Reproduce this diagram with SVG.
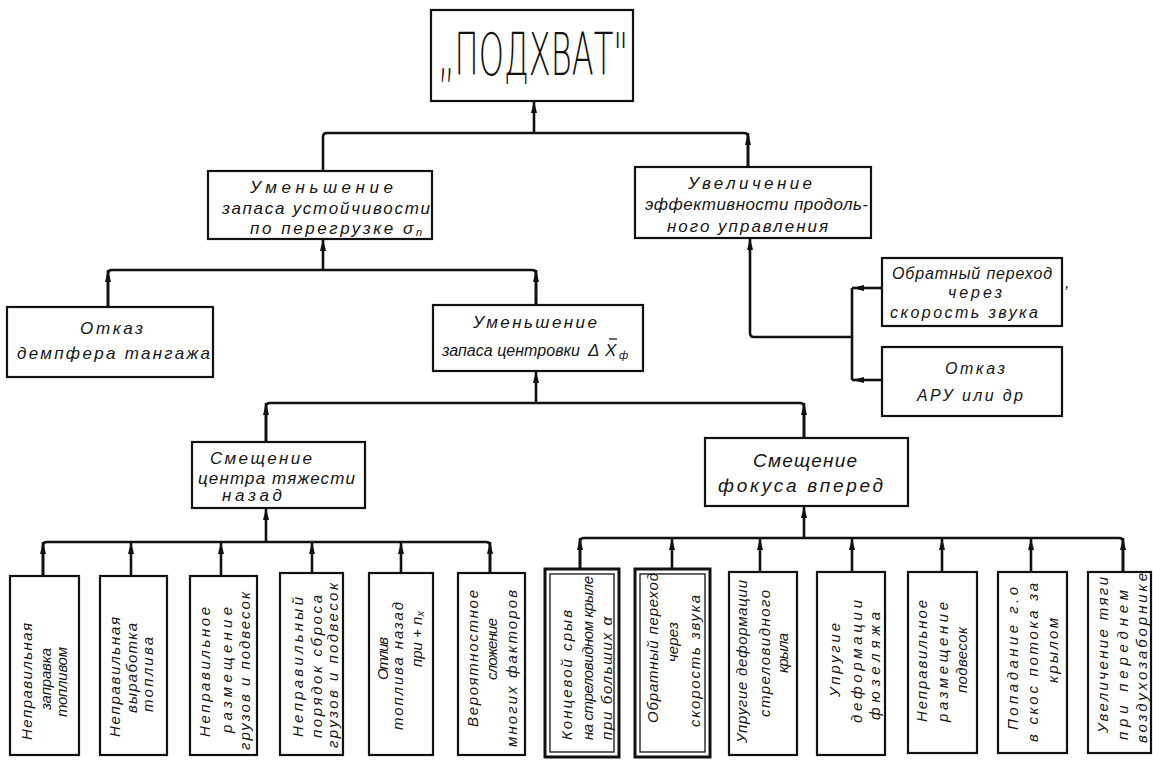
<svg xmlns="http://www.w3.org/2000/svg" width="1153" height="763" viewBox="0 0 1153 763">
<style>
.bx{fill:#fff;stroke:#111;stroke-width:2.2}
.bd{fill:#fff;stroke:#111;stroke-width:3}
.bi{fill:none;stroke:#111;stroke-width:1.3}
.ln{fill:none;stroke:#111;stroke-width:2.6;stroke-linejoin:round}
.t{font-family:"Liberation Sans","DejaVu Sans",sans-serif;font-style:italic;font-size:17px;fill:#151515}
.tb{font-size:19px}
.ts{font-size:16px}
.sub{font-size:11px}
.v{font-family:"Liberation Sans","DejaVu Sans",sans-serif;font-style:italic;font-size:15px;fill:#151515}
.big{font-family:"DejaVu Sans","Liberation Sans",sans-serif;font-weight:200;font-size:58px;fill:#111}
</style>
<defs>
<marker id="ah" viewBox="0 0 12 6" refX="12" refY="3" markerWidth="12" markerHeight="6" markerUnits="userSpaceOnUse" orient="auto">
<path d="M0,0 L12,3 L0,6 z" fill="#111"/>
</marker>
</defs>
<rect width="1153" height="763" fill="#fff"/>

<g id="connectors">
<path class="ln" d="M323,171 L323,137 Q323,133 327,133 L744,133 Q748,133 748,137 L748,167"/>
<path class="ln" d="M534,133 L534,101" marker-end="url(#ah)"/>
<path class="ln" d="M748,167 L748,133" marker-end="url(#ah)"/>
<path class="ln" d="M108,307 L108,274 Q108,270 112,270 L532,270 Q536,270 536,274 L536,305"/>
<path class="ln" d="M323,270 L323,239" marker-end="url(#ah)"/>
<path class="ln" d="M108,307 L108,270" marker-end="url(#ah)"/>
<path class="ln" d="M536,305 L536,270" marker-end="url(#ah)"/>
<path class="ln" d="M266,442 L266,407 Q266,403 270,403 L800,403 Q804,403 804,407 L804,438"/>
<path class="ln" d="M536,403 L536,371" marker-end="url(#ah)"/>
<path class="ln" d="M266,442 L266,403" marker-end="url(#ah)"/>
<path class="ln" d="M804,438 L804,403" marker-end="url(#ah)"/>
<path class="ln" d="M43,576 L43,546 Q43,542 47,542 L486,542 Q490,542 490,546 L490,573"/>
<path class="ln" d="M266,542 L266,508" marker-end="url(#ah)"/>
<path class="ln" d="M43,576 L43,542" marker-end="url(#ah)"/>
<path class="ln" d="M131,576 L131,542" marker-end="url(#ah)"/>
<path class="ln" d="M221,576 L221,542" marker-end="url(#ah)"/>
<path class="ln" d="M312,573 L312,542" marker-end="url(#ah)"/>
<path class="ln" d="M401,573 L401,542" marker-end="url(#ah)"/>
<path class="ln" d="M490,573 L490,542" marker-end="url(#ah)"/>
<path class="ln" d="M580,569 L580,542 Q580,538 584,538 L1119,538 Q1123,538 1123,542 L1123,572"/>
<path class="ln" d="M804,538 L804,506" marker-end="url(#ah)"/>
<path class="ln" d="M580,569 L580,538" marker-end="url(#ah)"/>
<path class="ln" d="M672,569 L672,538" marker-end="url(#ah)"/>
<path class="ln" d="M760,572 L760,538" marker-end="url(#ah)"/>
<path class="ln" d="M852,572 L852,538" marker-end="url(#ah)"/>
<path class="ln" d="M942,572 L942,538" marker-end="url(#ah)"/>
<path class="ln" d="M1031,572 L1031,538" marker-end="url(#ah)"/>
<path class="ln" d="M1123,572 L1123,538" marker-end="url(#ah)"/>
<path class="ln" d="M852,337 L754,337 Q750,337 750,333 L750,238" marker-end="url(#ah)"/>
<path class="ln" d="M852,288 L852,380"/>
<path class="ln" d="M882,288 L852,288" marker-end="url(#ah)"/>
<path class="ln" d="M882,380 L852,380" marker-end="url(#ah)"/>
</g>

<g id="top">
<rect class="bx" x="431" y="10" width="202" height="91"/>
<text class="big" x="438" y="75" textLength="190" lengthAdjust="spacingAndGlyphs">„ПОДХВАТ"</text>
</g>

<g id="n-stability">
<rect class="bx" x="208" y="171" width="224" height="68"/>
<text class="t" x="250" y="193" textLength="143">Уменьшение</text>
<text class="t" x="222" y="214" textLength="208">запаса устойчивости</text>
<text class="t" x="250" y="234" textLength="172">по перегрузке σ<tspan class="sub" dy="2">n</tspan></text>
</g>

<g id="n-control">
<rect class="bx" x="635" y="167" width="236" height="71"/>
<text class="t" x="688" y="189" textLength="124">Увеличение</text>
<text class="t" x="645" y="210" textLength="223">эффективности продоль-</text>
<text class="t" x="667" y="232" textLength="161">ного управления</text>
</g>

<g id="n-sound">
<rect class="bx" x="882" y="258" width="180" height="68"/>
<text class="t ts" x="892" y="279" textLength="160">Обратный переход</text>
<text class="t ts" x="948" y="298" textLength="54">через</text>
<text class="t ts" x="890" y="318" textLength="148">скорость звука</text>
</g>
<text class="t" x="1065" y="288">,</text>

<g id="n-aru">
<rect class="bx" x="882" y="347" width="180" height="69"/>
<text class="t ts" x="945" y="374" textLength="60">Отказ</text>
<text class="t ts" x="917" y="401" textLength="106">АРУ или др</text>
</g>

<g id="n-damper">
<rect class="bx" x="7" y="307" width="206" height="70"/>
<text class="t" x="80" y="334" textLength="63">Отказ</text>
<text class="t" x="17" y="359" textLength="193">демпфера тангажа</text>
</g>

<g id="n-centering">
<rect class="bx" x="433" y="305" width="210" height="66"/>
<text class="t" x="473" y="328" textLength="124">Уменьшение</text>
<text class="t ts" x="442" y="356" textLength="138">запаса центровки</text>
<text class="t" x="588" y="356">Δ</text>
<text class="t" x="605" y="356">X</text>
<line x1="609" y1="339" x2="617" y2="339" stroke="#151515" stroke-width="1.3"/>
<text class="t sub" x="619" y="359">ф</text>
</g>

<g id="n-cg">
<rect class="bx" x="192" y="442" width="173" height="66"/>
<text class="t" x="210" y="464" textLength="102">Смещение</text>
<text class="t" x="198" y="484" textLength="157">центра тяжести</text>
<text class="t" x="222" y="501" textLength="60">назад</text>
</g>

<g id="n-focus">
<rect class="bx" x="705" y="438" width="203" height="68"/>
<text class="t tb" x="753" y="467" textLength="104">Смещение</text>
<text class="t tb" x="718" y="492" textLength="165">фокуса вперед</text>
</g>

<g id="b1">
<rect class="bx" x="10" y="576" width="69" height="179"/>
<text class="v" transform="translate(32,740) rotate(-90)" textLength="117">Неправильная</text>
<text class="v" transform="translate(51,710) rotate(-90)" textLength="62">заправка</text>
<text class="v" transform="translate(67,717) rotate(-90)" textLength="70">топливом</text>
</g>
<g id="b2">
<rect class="bx" x="100" y="576" width="67" height="179"/>
<text class="v" transform="translate(120,737) rotate(-90)" textLength="120">Неправильная</text>
<text class="v" transform="translate(137,713) rotate(-90)" textLength="90">выработка</text>
<text class="v" transform="translate(153,712) rotate(-90)" textLength="75">топлива</text>
</g>
<g id="b3">
<rect class="bx" x="190" y="576" width="67" height="179"/>
<text class="v" transform="translate(210,737) rotate(-90)" textLength="130">Неправильное</text>
<text class="v" transform="translate(232,733) rotate(-90)" textLength="126">размещение</text>
<text class="v" transform="translate(250,750) rotate(-90)" textLength="158">грузов и подвесок</text>
</g>
<g id="b4">
<rect class="bx" x="280" y="573" width="63" height="182"/>
<text class="v" transform="translate(303,737) rotate(-90)" textLength="140">Неправильный</text>
<text class="v" transform="translate(322,738) rotate(-90)" textLength="143">порядок сброса</text>
<text class="v" transform="translate(338,748) rotate(-90)" textLength="165">грузов и подвесок</text>
</g>
<g id="b5">
<rect class="bx" x="369" y="573" width="64" height="182"/>
<text class="v" transform="translate(388,680) rotate(-90)" textLength="43">Отлив</text>
<text class="v" transform="translate(403,730) rotate(-90)" textLength="128">топлива назад</text>
<text class="v" transform="translate(422,667) rotate(-90)">при + n<tspan class="sub" dy="2">x</tspan></text>
</g>
<g id="b6">
<rect class="bx" x="458" y="573" width="67" height="182"/>
<text class="v" transform="translate(478,727) rotate(-90)" textLength="137">Вероятностное</text>
<text class="v" transform="translate(497,680) rotate(-90)" textLength="62">сложение</text>
<text class="v" transform="translate(517,747) rotate(-90)" textLength="157">многих факторов</text>
</g>
<g id="b7">
<rect class="bd" x="545" y="569" width="74" height="188"/>
<rect class="bi" x="550" y="574" width="64" height="178"/>
<text class="v" transform="translate(572,740) rotate(-90)" textLength="130">Концевой срыв</text>
<text class="v" transform="translate(593,740) rotate(-90)" textLength="164">на стреловидном крыле</text>
<text class="v" transform="translate(612,740) rotate(-90)" textLength="123">при больших α</text>
</g>
<g id="b8">
<rect class="bd" x="635" y="569" width="75" height="188"/>
<rect class="bi" x="640" y="574" width="65" height="178"/>
<text class="v" transform="translate(658,723) rotate(-90)" textLength="150">Обратный переход</text>
<text class="v" transform="translate(678,662) rotate(-90)" textLength="40">через</text>
<text class="v" transform="translate(700,727) rotate(-90)" textLength="132">скорость звука</text>
</g>
<g id="b9">
<rect class="bx" x="729" y="572" width="68" height="183"/>
<text class="v" transform="translate(747,743) rotate(-90)" textLength="163">Упругие деформации</text>
<text class="v" transform="translate(770,717) rotate(-90)" textLength="127">стреловидного</text>
<text class="v" transform="translate(788,673) rotate(-90)" textLength="40">крыла</text>
</g>
<g id="b10">
<rect class="bx" x="817" y="572" width="68" height="183"/>
<text class="v" transform="translate(840,697) rotate(-90)" textLength="74">Упругие</text>
<text class="v" transform="translate(862,723) rotate(-90)" textLength="123">деформации</text>
<text class="v" transform="translate(880,720) rotate(-90)" textLength="108">фюзеляжа</text>
</g>
<g id="b11">
<rect class="bx" x="908" y="572" width="69" height="181"/>
<text class="v" transform="translate(927,722) rotate(-90)" textLength="122">Неправильное</text>
<text class="v" transform="translate(948,722) rotate(-90)" textLength="120">размещение</text>
<text class="v" transform="translate(967,693) rotate(-90)" textLength="66">подвесок</text>
</g>
<g id="b12">
<rect class="bx" x="998" y="572" width="69" height="181"/>
<text class="v" transform="translate(1018,730) rotate(-90)" textLength="143">Попадание г.о</text>
<text class="v" transform="translate(1038,742) rotate(-90)" textLength="159">в скос потока за</text>
<text class="v" transform="translate(1058,683) rotate(-90)" textLength="65">крылом</text>
</g>
<g id="b13">
<rect class="bx" x="1088" y="572" width="63" height="181"/>
<text class="v" transform="translate(1108,733) rotate(-90)" textLength="156">Увеличение тяги</text>
<text class="v" transform="translate(1128,740) rotate(-90)" textLength="150">при переднем</text>
<text class="v" transform="translate(1147,743) rotate(-90)" textLength="170">воздухозаборнике</text>
</g>
</svg>
